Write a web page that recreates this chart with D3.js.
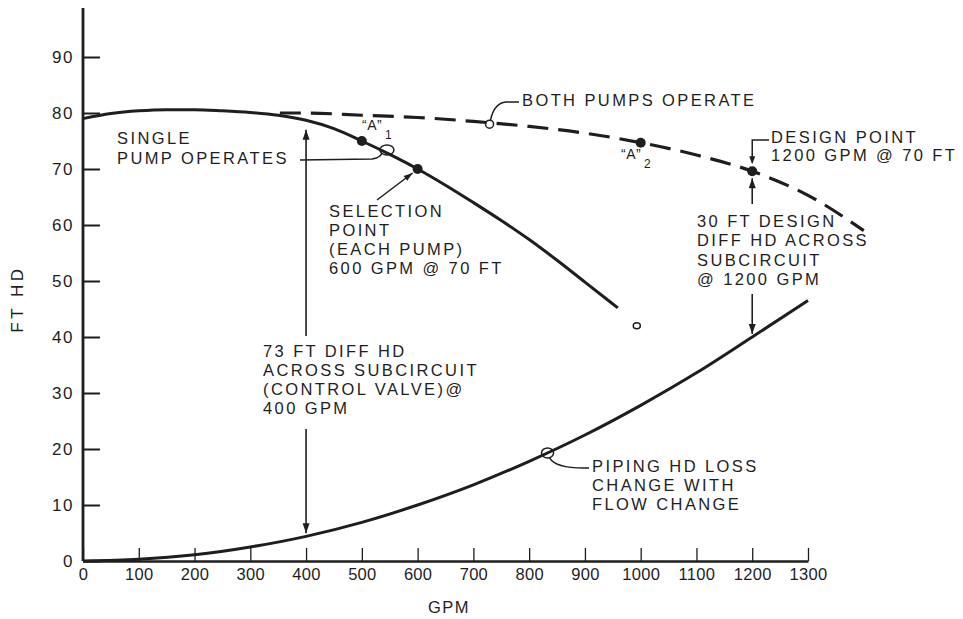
<!DOCTYPE html>
<html>
<head>
<meta charset="utf-8">
<script src="https://cdn.jsdelivr.net/npm/d3@7/dist/d3.min.js"></script>
<style>
  html, body { margin: 0; padding: 0; background: #fff; }
  svg { display: block; }
  text { font-family: "Liberation Sans", Arial, sans-serif; fill: #1e1e1e; }
</style>
</head>
<body>
<script>
// ---- data ----
const gpmTicks = [0,100,200,300,400,500,600,700,800,900,1000,1100,1200,1300];
const ftTicks = [0,10,20,30,40,50,60,70,80,90];

// single pump curve (GPM, FT)
const singleGPM = [0,50,100,150,200,250,300,350,400,450,500,550,600,650,700,750,800,850,900,959];
const singleFT  = [79,79.9,80.4,80.6,80.6,80.4,80.1,79.6,78.7,77.2,75,72.6,70,67.1,64.0,60.8,57.4,53.7,49.8,45.2];

// both pumps curve (dashed)
const bothGPM = [353,400,500,600,700,800,900,1000,1100,1200,1300,1400];
const bothFT  = [80,80,79.6,79.2,78.5,77.6,76.4,74.7,72.5,69.6,65.3,59];

// piping head loss curve
const pipeGPM = [0,100,200,300,400,500,600,700,800,900,1000,1100,1200,1300];
const pipeFT  = [0,0.3,1.1,2.5,4.4,6.9,10,13.6,17.8,22.5,27.8,33.6,40,46.5];

// marked points
const dotNames = ["A1","SELECTION","A2","DESIGN"];
const dotGPM = [500,600,1000,1200];
const dotFT  = [75,70,74.7,69.6];

// open leader circles
const ringGPM = [545,729,833,993];
const ringFT  = [73.4,78,19.3,42];

// differential head arrows
const diffGPM = [400,1200];
const diffTopFT = [77,69.6];
const diffBotFT = [4.4,40];

// ---- chart ----
const W = 963, H = 619;
const svg = d3.select("body").append("svg").attr("width", W).attr("height", H);
svg.append("rect").attr("width", W).attr("height", H).attr("fill", "#fff");

const x = d3.scaleLinear().domain([0,1300]).range([83,808]);
const y = d3.scaleLinear().domain([0,90]).range([561,57]);
const ink = "#1e1e1e";

// axes
const xAxis = d3.axisBottom(x).tickValues(gpmTicks).tickFormat(d3.format("d"))
  .tickSize(-13).tickSizeOuter(0).tickPadding(7);
const gx = svg.append("g").attr("transform", `translate(0,${y(0)})`).call(xAxis);
gx.select(".domain").attr("stroke", ink).attr("stroke-width", 2.6);
gx.selectAll(".tick line").attr("stroke", ink).attr("stroke-width", 1.3);
gx.selectAll(".tick text").attr("font-size", 16.5).attr("letter-spacing", 0.3).attr("fill", ink)
  .attr("font-family", "Liberation Sans, Arial, sans-serif");

const yAxis = d3.axisLeft(y).tickValues(ftTicks).tickFormat(d3.format("d"))
  .tickSize(-17).tickSizeOuter(0).tickPadding(9);
const gy = svg.append("g").attr("transform", `translate(${x(0)},0)`).call(yAxis);
gy.select(".domain").remove();
gy.selectAll(".tick line").attr("stroke", ink).attr("stroke-width", 2);
gy.selectAll(".tick text").attr("font-size", 17).attr("letter-spacing", 1.5).attr("fill", ink)
  .attr("font-family", "Liberation Sans, Arial, sans-serif");
svg.append("line").attr("x1", x(0)).attr("x2", x(0)).attr("y1", 8).attr("y2", y(0))
  .attr("stroke", ink).attr("stroke-width", 2.8);

// axis titles
svg.append("text").attr("x", 449).attr("y", 609).attr("text-anchor", "middle")
  .attr("dominant-baseline", "middle").attr("font-size", 16.5).attr("letter-spacing", 1.5).text("GPM");
svg.append("text").attr("transform", "translate(19,299) rotate(-90)").attr("text-anchor", "middle")
  .attr("dominant-baseline", "middle").attr("font-size", 17).attr("letter-spacing", 3.5).text("FT HD");

// curves
const line = d3.line().x(d => x(d[0])).y(d => y(d[1])).curve(d3.curveMonotoneX);
svg.append("path").attr("d", line(d3.zip(pipeGPM, pipeFT)))
  .attr("fill", "none").attr("stroke", ink).attr("stroke-width", 3);
svg.append("path").attr("d", line(d3.zip(singleGPM, singleFT)))
  .attr("fill", "none").attr("stroke", ink).attr("stroke-width", 3);
svg.append("path").attr("d", line(d3.zip(bothGPM, bothFT)))
  .attr("fill", "none").attr("stroke", ink).attr("stroke-width", 3.2)
  .attr("stroke-dasharray", "21 10");

// dots
svg.selectAll("circle.dot").data(d3.range(dotGPM.length)).join("circle").attr("class","dot")
  .attr("cx", i => x(dotGPM[i])).attr("cy", i => y(dotFT[i])).attr("r", 5).attr("fill", ink);

// rings
const ringR = [[7,5],[4,4],[6,5],[3.5,3]];
svg.selectAll("ellipse.ring").data(d3.range(ringGPM.length)).join("ellipse").attr("class","ring")
  .attr("cx", i => x(ringGPM[i])).attr("cy", i => y(ringFT[i]))
  .attr("rx", i => ringR[i][0]).attr("ry", i => ringR[i][1])
  .attr("fill", "none").attr("stroke", ink).attr("stroke-width", 1.5);

// arrowhead helper: tip at (tx,ty), direction (dx,dy)
function arrowHead(tx, ty, dx, dy, len = 10, half = 3.5) {
  const n = Math.hypot(dx, dy); dx /= n; dy /= n;
  const bx = tx - dx * len, by = ty - dy * len;
  const px = -dy * half, py = dx * half;
  svg.append("path").attr("d", `M${tx},${ty} L${bx+px},${by+py} L${bx-px},${by-py} Z`).attr("fill", ink);
}
function seg(x1, y1, x2, y2, w = 1.6) {
  svg.append("line").attr("x1", x1).attr("y1", y1).attr("x2", x2).attr("y2", y2)
    .attr("stroke", ink).attr("stroke-width", w);
}

// differential arrows
const gaps = [[336, 429], [204, 294]];
diffGPM.forEach((g, i) => {
  const xx = x(g);
  const top = y(diffTopFT[i]) + (i === 1 ? 7 : 0);
  const bot = y(diffBotFT[i]) - 3;
  seg(xx, top, xx, gaps[i][0]);
  seg(xx, gaps[i][1], xx, bot);
  arrowHead(xx, top, 0, -1);
  arrowHead(xx, bot, 0, 1);
});

// leaders
const leader = (d) => svg.append("path").attr("d", d).attr("fill", "none").attr("stroke", ink).attr("stroke-width", 1.5);
// single pump operates
leader(`M300,160 L372,159 Q380,158 ${x(ringGPM[0]) - 5},${y(ringFT[0]) + 3}`);
// both pumps operate
leader(`M519,102 L506,102 Q494,103 ${x(ringGPM[1]) + 1},${y(ringFT[1]) - 4}`);
// piping
leader(`M${x(ringGPM[2]) + 2},${y(ringFT[2]) + 5} Q556,469 589,468`);
// design point
const dX = x(dotGPM[3]), dY = y(dotFT[3]);
leader(`M769,140 L${dX},140 L${dX},${dY - 9}`);
arrowHead(dX, dY - 7, 0, 1, 8, 3);
// selection point arrow
const sX = x(dotGPM[1]) - 5, sY = y(dotFT[1]) + 4;
seg(377, 200, sX, sY, 1.5);
arrowHead(sX, sY, sX - 377, sY - 200, 9, 3);

// text blocks
function block(lines, x0, ys, opts = {}) {
  lines.forEach((t, i) => {
    svg.append("text").attr("x", x0).attr("y", ys[i]).attr("dominant-baseline", "middle")
      .attr("font-size", opts.size || 16.5).attr("letter-spacing", opts.ls ?? 2.4).text(t);
  });
}
block(["SINGLE", "PUMP OPERATES"], 117, [140, 160]);
block(["SELECTION", "POINT", "(EACH PUMP)", "600 GPM @ 70 FT"], 329, [213, 232, 251, 270]);
block(["73 FT DIFF HD", "ACROSS SUBCIRCUIT", "(CONTROL VALVE)@", "400 GPM"], 263, [353, 372, 391, 410]);
block(["BOTH PUMPS OPERATE"], 522, [102]);
block(["DESIGN POINT", "1200 GPM @ 70 FT"], 771, [139, 157]);
block(["30 FT DESIGN", "DIFF HD ACROSS", "SUBCIRCUIT", "@ 1200 GPM"], 697, [223, 242, 262, 281]);
block(["PIPING HD LOSS", "CHANGE WITH", "FLOW CHANGE"], 592, [468, 487, 506]);

// A1 / A2 labels (letter and subscript as separate texts)
function aLabel(x0, y0, sub) {
  svg.append("text").attr("x", x0).attr("y", y0).attr("dominant-baseline", "middle")
    .attr("font-size", 14).attr("letter-spacing", 0.5).text("\u201CA\u201D");
  svg.append("text").attr("x", x0 + 23).attr("y", y0 + 10).attr("dominant-baseline", "middle")
    .attr("font-size", 12).text(sub);
}
aLabel(362, 126, "1");
aLabel(621, 155, "2");
</script>
</body>
</html>
